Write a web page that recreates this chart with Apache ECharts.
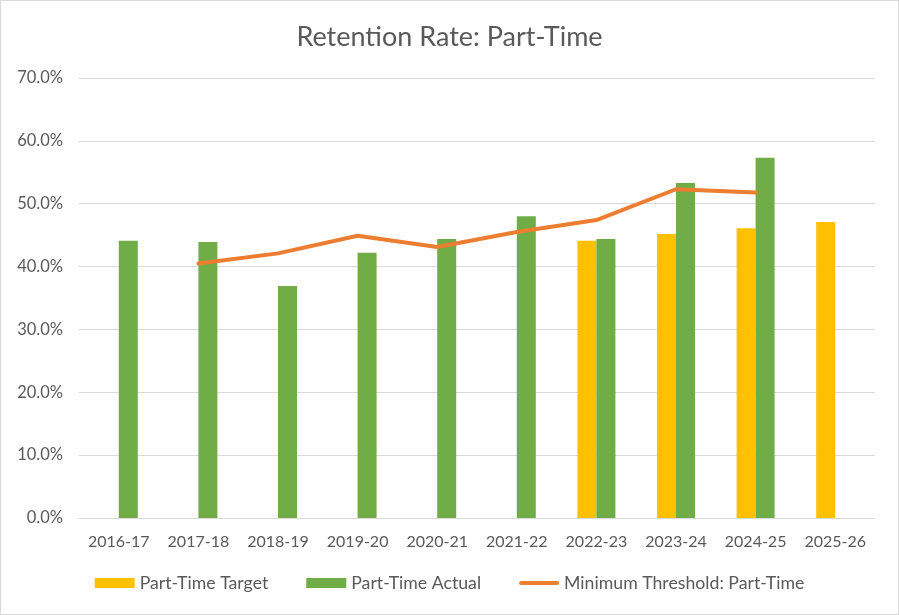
<!DOCTYPE html>
<html>
<head>
<meta charset="utf-8">
<script src="https://cdn.jsdelivr.net/npm/echarts@6/dist/echarts.min.js"></script>
<style>
html,body{margin:0;padding:0;background:#fff;}
#chart{width:899px;height:615px;box-sizing:border-box;border:1px solid #d9d9d9;}
</style>
</head>
<body>
<div id="chart"></div>
<script>
const categories = ['2016-17','2017-18','2018-19','2019-20','2020-21','2021-22','2022-23','2023-24','2024-25','2025-26'];
const targetValues = [null,null,null,null,null,null,44.1,45.2,46.1,47.1];
const actualValues = [44.1,43.9,36.9,42.2,44.4,48.0,44.4,53.3,57.3,null];
const thresholdValues = [null,40.5,42.1,44.9,43.1,45.5,47.4,52.3,51.8,null];
const yTicks = {min:0, max:70, interval:10};

const font = 'Lato, "Open Sans", sans-serif';
const chart = echarts.init(document.getElementById('chart'));
chart.setOption({
  animation:false,
  textStyle:{fontFamily:font},
  title:{text:'Retention Rate: Part-Time', left:'center', top:18,
    textStyle:{fontFamily:font, fontSize:27, fontWeight:'normal', color:'#595959'}},
  grid:{left:78, right:23, top:77, bottom:96, containLabel:false},
  legend:{bottom:17, left:'center', itemWidth:40, itemHeight:10, itemGap:38,
    textStyle:{fontFamily:font, fontSize:17.7, color:'#595959'},
    data:[{name:'Part-Time Target', icon:'rect'},{name:'Part-Time Actual', icon:'rect'},
      {name:'Minimum Threshold: Part-Time', icon:'path://M2,0 L38,0 A2,2,0,0,1,38,4 L2,4 A2,2,0,0,1,2,0 Z'}]},
  xAxis:{type:'category', data:categories,
    axisLine:{lineStyle:{color:'#d9d9d9', width:1}}, axisTick:{show:false},
    axisLabel:{fontFamily:font, fontSize:16, color:'#595959', margin:16, interval:0}},
  yAxis:{type:'value', min:yTicks.min, max:yTicks.max, interval:yTicks.interval,
    axisLine:{show:false}, axisTick:{show:false},
    splitLine:{lineStyle:{color:'#d9d9d9', width:1}},
    axisLabel:{fontFamily:font, fontSize:16.5, color:'#595959', margin:16,
      formatter:v=>v.toFixed(1)+'%'}},
  series:[
    {name:'Part-Time Target', type:'bar', data:targetValues, barWidth:19, barGap:'0%',
      itemStyle:{color:'#FFC000'}},
    {name:'Part-Time Actual', type:'bar', data:actualValues, barWidth:19, barGap:'0%',
      itemStyle:{color:'#70AD47'}},
    {name:'Minimum Threshold: Part-Time', type:'line', data:thresholdValues,
      symbol:'none', showSymbol:false, connectNulls:false,
      lineStyle:{color:'#ED7D31', width:4, cap:'round', join:'round'},
      itemStyle:{color:'#ED7D31'}}
  ]
});
</script>
</body>
</html>
